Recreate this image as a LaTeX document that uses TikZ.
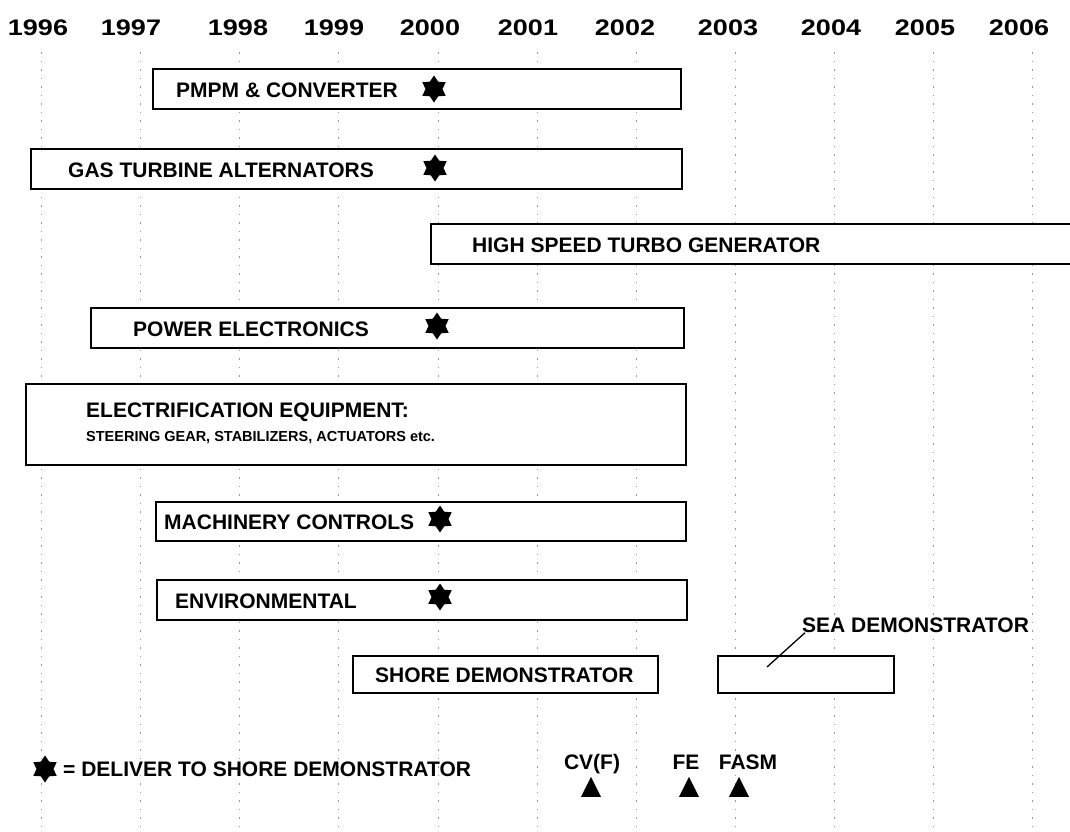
\documentclass[tikz,border=0pt]{standalone}
\usepackage{graphicx}
\usepackage{fontspec}
\setmainfont{Liberation Sans}
\usetikzlibrary{shapes.geometric}

\begin{document}
\begin{tikzpicture}[x=1pt,y=-1pt,declare function={buoc=99.1;goc=41.5;},font=\bfseries\fontsize{21}{24}\selectfont]
\tikzset{thanh/.style={draw,line width=1.7pt,fill=white,anchor=north west,inner sep=0pt,minimum height=40pt},
	chu/.style={anchor=west,inner sep=0pt,text height=15pt,text depth=0pt},
	nam/.style={inner sep=0pt,text height=15.5pt,text depth=0pt,font=\bfseries\fontsize{22.5}{24}\selectfont},
	sao/.style={star,star points=6,star point ratio=1.6,fill=black,minimum size=27pt,inner sep=0pt},
	moc/.style={isosceles triangle,shape border rotate=90,isosceles triangle stretches,fill=black,minimum width=20pt,minimum height=20pt,inner sep=0pt,anchor=south}}
\useasboundingbox (0,0) rectangle (1070,831);

% Lưới các năm
\foreach \i in {0,...,10}
	\draw[gray!80,line width=0.8pt,dash pattern=on 1.5pt off 7pt] ({goc+\i*buoc},52) -- ({goc+\i*buoc},831);

% Các năm
\path (38,28) node[nam] (n96) {\scalebox{1.2}[1]{1996}}
	(131,28) node[nam] (n97) {\scalebox{1.2}[1]{1997}}
	(238,28) node[nam] (n98) {\scalebox{1.2}[1]{1998}}
	(334,28) node[nam] (n99) {\scalebox{1.2}[1]{1999}}
	(430,28) node[nam] (n00) {\scalebox{1.2}[1]{2000}}
	(528,28) node[nam] (n01) {\scalebox{1.2}[1]{2001}}
	(625,28) node[nam] (n02) {\scalebox{1.2}[1]{2002}}
	(728,28) node[nam] (n03) {\scalebox{1.2}[1]{2003}}
	(831,28) node[nam] (n04) {\scalebox{1.2}[1]{2004}}
	(925,28) node[nam] (n05) {\scalebox{1.2}[1]{2005}}
	(1019,28) node[nam] (n06) {\scalebox{1.2}[1]{2006}};

% Các thanh
\path (152,68) node[thanh,minimum width=528pt] (pmpm) {}
	(30,148) node[thanh,minimum width=651pt] (gas) {}
	(430,223) node[thanh,minimum width=660pt] (hst) {}
	(90,307) node[thanh,minimum width=593pt] (power) {}
	(25,383) node[thanh,minimum width=660pt,minimum height=81pt] (elec) {}
	(155,501) node[thanh,minimum width=530pt,minimum height=39pt] (mach) {}
	(156,579) node[thanh,minimum width=530pt] (env) {}
	(352,655) node[thanh,minimum width=305pt,minimum height=37pt] (shore) {}
	(717,655) node[thanh,minimum width=176pt,minimum height=37pt] (sea) {};

% Chữ trong thanh
\node[chu] (tpmpm) at ([xshift=24pt,yshift=-1pt]pmpm.west) {PMPM \& CONVERTER};
\node[chu] (tgas) at ([xshift=38pt,yshift=-1pt]gas.west) {GAS TURBINE ALTERNATORS};
\node[chu] (thst) at ([xshift=42pt,yshift=-1pt]hst.west) {HIGH SPEED TURBO GENERATOR};
\node[chu] (tpower) at ([xshift=43pt,yshift=-1pt]power.west) {POWER ELECTRONICS};
\node[chu] (telec) at (86,410) {ELECTRIFICATION EQUIPMENT:};
\node[chu,text height=10.4pt,font=\bfseries\fontsize{14.5}{16}\selectfont] (telec2) at (86,436) {STEERING GEAR, STABILIZERS, ACTUATORS etc.};
\node[chu] (tmach) at ([xshift=9pt,yshift=-1pt]mach.west) {MACHINERY CONTROLS};
\node[chu] (tenv) at ([xshift=19pt,yshift=-1pt]env.west) {ENVIRONMENTAL};
\node[chu] (tshore) at ([xshift=23pt,yshift=-1pt]shore.west) {SHORE DEMONSTRATOR};

% Các ngôi sao
\path (434,89) node[sao] (s1) {}
	(435,168) node[sao] (s2) {}
	(437,326) node[sao] (s3) {}
	(440,519) node[sao] (s4) {}
	(440,597) node[sao] (s5) {};

% Biển tàu
\node[chu] (tsea) at (802,625) {SEA DEMONSTRATOR};
\coordinate (dsea) at (767,667);
\draw[line width=1.3pt] ([xshift=3pt]tsea.south west) -- (dsea);

% Chú thích
\node[sao] (ssao) at (45,769) {};
\node[chu] (tsao) at (63,769) {= DELIVER TO SHORE DEMONSTRATOR};

% Các mốc
\path (592,762) node[chu,anchor=center] (tcvf) {CV(F)}
	(686,762) node[chu,anchor=center] (tfe) {FE}
	(748,762) node[chu,anchor=center] (tfasm) {FASM}
	(591,797) node[moc] (mcvf) {}
	(689,797) node[moc] (mfe) {}
	(739,797) node[moc] (mfasm) {};
\end{tikzpicture}
\end{document}
